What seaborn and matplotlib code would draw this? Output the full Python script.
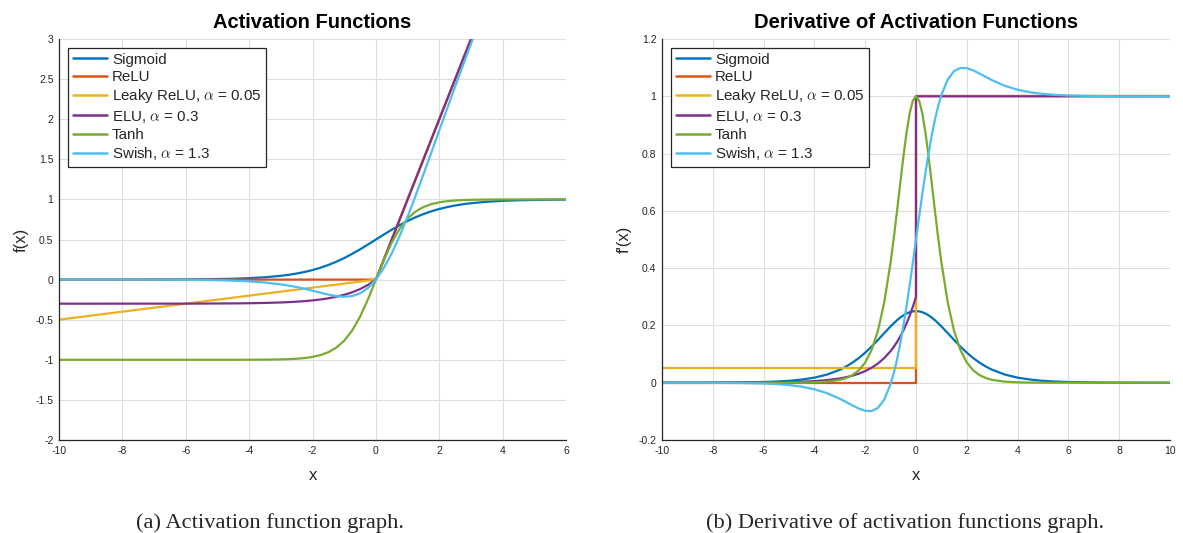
import matplotlib
matplotlib.use("Agg")
import matplotlib.pyplot as plt
import seaborn as sns
import pandas as pd
from matplotlib.ticker import FuncFormatter, MultipleLocator
from matplotlib.lines import Line2D

# ---------------- data ----------------
SERIES = ["Sigmoid", "ReLU", r"Leaky ReLU, $\alpha$ = 0.05",
          r"ELU, $\alpha$ = 0.3", "Tanh", r"Swish, $\alpha$ = 1.3"]
COLORS = ["#0072BD", "#D95319", "#EDB120", "#7E2F8E", "#77AC30", "#4DBEEE"]

# (a) activation functions
x_act = [-10, -9, -8, -7, -6, -5.5, -5, -4.5, -4, -3.5, -3, -2.75, -2.5, -2.25, -2,
         -1.75, -1.5, -1.25, -1, -0.75, -0.5, -0.25, 0, 0.25, 0.5, 0.75, 1, 1.25,
         1.5, 1.75, 2, 2.25, 2.5, 2.75, 3, 3.5, 4, 4.5, 5, 5.5, 6]
sigmoid = [0.0000, 0.0001, 0.0003, 0.0009, 0.0025, 0.0041, 0.0067, 0.0110, 0.0180,
           0.0293, 0.0474, 0.0601, 0.0759, 0.0953, 0.1192, 0.1481, 0.1824, 0.2227,
           0.2689, 0.3208, 0.3775, 0.4378, 0.5000, 0.5622, 0.6225, 0.6792, 0.7311,
           0.7773, 0.8176, 0.8519, 0.8808, 0.9047, 0.9241, 0.9399, 0.9526, 0.9707,
           0.9820, 0.9890, 0.9933, 0.9959, 0.9975]
tanh = [-1.0000, -1.0000, -1.0000, -1.0000, -1.0000, -1.0000, -0.9999, -0.9998,
        -0.9993, -0.9982, -0.9951, -0.9919, -0.9866, -0.9780, -0.9640, -0.9414,
        -0.9051, -0.8483, -0.7616, -0.6351, -0.4621, -0.2449, 0.0000, 0.2449,
        0.4621, 0.6351, 0.7616, 0.8483, 0.9051, 0.9414, 0.9640, 0.9780, 0.9866,
        0.9919, 0.9951, 0.9982, 0.9993, 0.9998, 0.9999, 1.0000, 1.0000]
elu = [-0.3000, -0.3000, -0.2999, -0.2997, -0.2993, -0.2988, -0.2980, -0.2967,
       -0.2945, -0.2909, -0.2851, -0.2808, -0.2754, -0.2684, -0.2594, -0.2479,
       -0.2331, -0.2141, -0.1896, -0.1583, -0.1180, -0.0664, 0.0000, 0.25, 0.5,
       0.75, 1.0, 1.25, 1.5, 1.75, 2.0, 2.25, 2.5, 2.75, 3.0, 3.5, 4.0, 4.5, 5.0,
       5.5, 6.0]
swish = [0.0000, -0.0001, -0.0002, -0.0008, -0.0025, -0.0043, -0.0075, -0.0129,
         -0.0220, -0.0366, -0.0594, -0.0748, -0.0932, -0.1148, -0.1382, -0.1631,
         -0.1869, -0.2056, -0.2142, -0.2054, -0.1715, -0.1049, 0.0000, 0.1451,
         0.3285, 0.5446, 0.7858, 1.0444, 1.3131, 1.5869, 1.8618, 2.1353, 2.4068,
         2.6752, 2.9406, 3.4494, 3.9780, 4.4871, 4.9925, 5.4957, 5.9975]
x_relu = [-10, 0, 6]
relu = [0, 0, 6]
leaky = [-0.5, 0, 6]

# (b) derivatives
x_der = [-10, -9, -8, -7, -6, -5.5, -5, -4.5, -4, -3.5, -3, -2.75, -2.5, -2.25, -2,
         -1.75, -1.5, -1.25, -1, -0.875, -0.75, -0.625, -0.5, -0.375, -0.25, -0.125,
         0, 0.125, 0.25, 0.375, 0.5, 0.625, 0.75, 0.875, 1, 1.25, 1.5, 1.75, 2,
         2.25, 2.5, 2.75, 3, 3.5, 4, 4.5, 5, 5.5, 6, 7, 8, 9, 10]
d_sigmoid = [0.00005, 0.00012, 0.00034, 0.00091, 0.00247, 0.00407, 0.00665, 0.01099,
             0.01766, 0.02844, 0.04518, 0.05649, 0.07014, 0.08622, 0.10499, 0.12617,
             0.14914, 0.17310, 0.19661, 0.20766, 0.21789, 0.22710, 0.23500, 0.24142,
             0.24613, 0.24903, 0.25000, 0.24903, 0.24613, 0.24142, 0.23500, 0.22710,
             0.21789, 0.20766, 0.19661, 0.17310, 0.14914, 0.12617, 0.10499, 0.08622,
             0.07014, 0.05649, 0.04518, 0.02844, 0.01766, 0.01099, 0.00665, 0.00407,
             0.00247, 0.00091, 0.00034, 0.00012, 0.00005]
d_tanh = [0.0, 0.0, 0.0, 0.0, 0.00002, 0.00007, 0.00018, 0.00049, 0.00134, 0.00364,
          0.00987, 0.01613, 0.02660, 0.04352, 0.07065, 0.11377, 0.18071, 0.28039,
          0.41997, 0.50450, 0.59665, 0.69243, 0.78645, 0.87159, 0.94002, 0.98454,
          1.0, 0.98454, 0.94002, 0.87159, 0.78645, 0.69243, 0.59665, 0.50450, 0.41997,
          0.28039, 0.18071, 0.11377, 0.07065, 0.04352, 0.02660, 0.01613, 0.00987,
          0.00364, 0.00134, 0.00049, 0.00018, 0.00007, 0.00002, 0.0, 0.0, 0.0, 0.0]
d_swish = [-0.00003, -0.00009, -0.00029, -0.00091, -0.00279, -0.00483, -0.00824,
           -0.01387, -0.02290, -0.03663, -0.05600, -0.06752, -0.07944, -0.09045,
           -0.09820, -0.09908, -0.08807, -0.05884, -0.00462, 0.03366, 0.07998,
           0.13439, 0.19651, 0.26557, 0.34032, 0.41910, 0.50000, 0.58090, 0.65968,
           0.73443, 0.80349, 0.86561, 0.92002, 0.96634, 1.00462, 1.05884, 1.08807,
           1.09908, 1.09820, 1.09045, 1.07944, 1.06752, 1.05600, 1.03663, 1.02290,
           1.01387, 1.00824, 1.00483, 1.00279, 1.00091, 1.00029, 1.00009, 1.00003]
x_d_elu = [-10, -9, -8, -7, -6, -5.5, -5, -4.5, -4, -3.5, -3, -2.75, -2.5, -2.25, -2,
           -1.75, -1.5, -1.25, -1, -0.875, -0.75, -0.625, -0.5, -0.375, -0.25,
           -0.125, 0, 0, 10]
d_elu = [0.0000, 0.0000, 0.0001, 0.0003, 0.0007, 0.0012, 0.0020, 0.0033, 0.0055,
         0.0091, 0.0149, 0.0192, 0.0246, 0.0316, 0.0406, 0.0521, 0.0669, 0.0860,
         0.1104, 0.1251, 0.1417, 0.1606, 0.1820, 0.2062, 0.2336, 0.2648, 0.3, 1.0, 1.0]
x_d_step = [-10, 0, 0, 10]
d_relu = [0, 0, 1, 1]
d_leaky = [0.05, 0.05, 1, 1]

# ---------------- style ----------------
sns.set_style("white")
plt.rcParams["font.family"] = ["Liberation Sans", "DejaVu Sans"]
plt.rcParams["mathtext.fontset"] = "cm"
plt.rcParams["axes.unicode_minus"] = False

TXT = "#262626"


def frame(pairs):
    rows = []
    for name, (xs, ys) in zip(SERIES, pairs):
        for i, (xv, yv) in enumerate(zip(xs, ys)):
            rows.append((name, i, xv, yv))
    return pd.DataFrame(rows, columns=["series", "order", "x", "y"])


df_a = frame([(x_act, sigmoid), (x_relu, relu), (x_relu, leaky),
              (x_act, elu), (x_act, tanh), (x_act, swish)])
df_b = frame([(x_der, d_sigmoid), (x_d_step, d_relu), (x_d_step, d_leaky),
              (x_d_elu, d_elu), (x_der, d_tanh), (x_der, d_swish)])

fig = plt.figure(figsize=(11.83, 5.33), dpi=100)
ax1 = fig.add_axes([0.0499, 0.1745, 0.4286, 0.7523])
ax2 = fig.add_axes([0.5596, 0.1745, 0.4294, 0.7523])

fmt = FuncFormatter(lambda v, p: f"{v:g}")


def draw(ax, df, xlim, ylim, xstep, ystep, title, ylabel):
    sns.lineplot(data=df, x="x", y="y", hue="series", hue_order=SERIES,
                 palette=COLORS, sort=False, estimator=None, ax=ax,
                 linewidth=1.6, legend=False)
    ax.set_xlim(*xlim)
    ax.set_ylim(*ylim)
    ax.xaxis.set_major_locator(MultipleLocator(xstep))
    ax.yaxis.set_major_locator(MultipleLocator(ystep))
    ax.xaxis.set_major_formatter(fmt)
    ax.yaxis.set_major_formatter(fmt)
    ax.grid(True, color="#dedede", linewidth=0.8)
    ax.set_axisbelow(True)
    for s in ["top", "right"]:
        ax.spines[s].set_visible(False)
    for s in ["left", "bottom"]:
        ax.spines[s].set_color(TXT)
        ax.spines[s].set_linewidth(0.9)
    ax.tick_params(direction="in", length=3, width=0.8, labelsize=7.5,
                   colors=TXT, pad=4)
    ax.set_title(title, fontsize=14.5, fontweight="bold", color="black", pad=8)
    ax.set_xlabel("x", fontsize=12, color=TXT, labelpad=9)
    ax.set_ylabel(ylabel, fontsize=12, color=TXT, labelpad=5)
    handles = [Line2D([0], [0], color=c, lw=1.8) for c in COLORS]
    leg = ax.legend(handles, SERIES, loc="upper left", fontsize=10.9,
                    frameon=True, fancybox=False, edgecolor=TXT,
                    framealpha=1, borderpad=0.3, labelspacing=0.22,
                    handlelength=2.3, handletextpad=0.3,
                    borderaxespad=0.6)
    leg.get_frame().set_linewidth(0.9)


draw(ax1, df_a, (-10, 6), (-2, 3), 2, 0.5, "Activation Functions", "f(x)")
draw(ax2, df_b, (-10, 10), (-0.2, 1.2), 2, 0.2,
     "Derivative of Activation Functions", "f'(x)")

fig.text(0.2285, 0.0094, "(a) Activation function graph.", ha="center",
         va="baseline", fontsize=16.2, family="Liberation Serif")
fig.text(0.765, 0.0094, "(b) Derivative of activation functions graph.",
         ha="center", va="baseline", fontsize=16.2, family="Liberation Serif")

fig.savefig("out.png", dpi=100)
